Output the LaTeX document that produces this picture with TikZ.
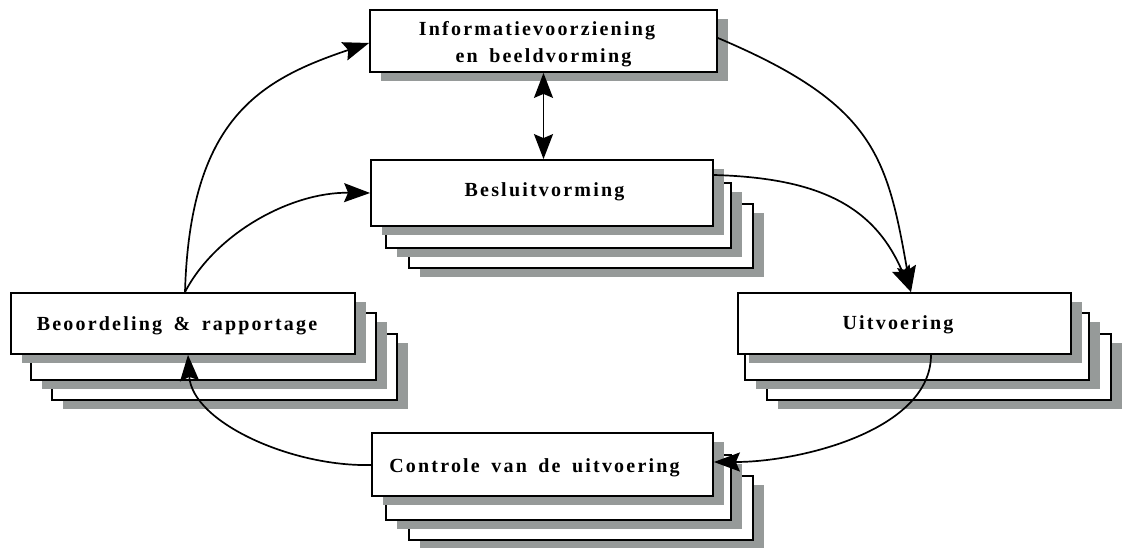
\documentclass[tikz,border=0pt]{standalone}
\usepackage{fontspec}
\setmainfont{Liberation Serif}
\newfontfamily\cardfamily{Liberation Serif}[LetterSpace=11]
\usetikzlibrary{shadows,arrows.meta}
\definecolor{shadowgray}{RGB}{150,154,153}
\newcommand\cardfont{\cardfamily\bfseries\fontsize{20}{27}\selectfont\spaceskip=11.5pt plus 1pt\relax}
\tikzset{
  card/.style={draw=black, fill=white, line width=1.8pt, inner sep=0pt,
    align=center, font=\cardfont, text height=13.5pt, text depth=4.5pt,
    drop shadow={shadow xshift=11pt, shadow yshift=-9pt, opacity=1, fill=shadowgray}},
  flow/.style={line width=1.7pt, -{Stealth[length=26pt, width=19pt, inset=4pt]}},
  twoway/.style={line width=1.8pt, {Stealth[length=25pt, width=19pt, inset=4pt]}-{Stealth[length=25pt, width=19pt, inset=4pt]}}
}
\begin{document}
\begin{tikzpicture}[x=1pt, y=-1pt]
\useasboundingbox (0,0) rectangle (1127,548);

% information box
\node[card, minimum width=347pt, minimum height=62pt, text height=, text depth=] (info) at (543.5,41)
  {\rule{0pt}{21pt}Informatievoorziening\hspace*{13pt}\\en beeldvorming};

% decision stack
\node[card, minimum width=344pt, minimum height=64pt] (besl3) at (581,236) {};
\node[card, minimum width=345pt, minimum height=65pt] (besl2) at (558.5,215.5) {};
\node[card, minimum width=342pt, minimum height=66pt, text height=13pt, text depth=5pt] (besl1) at (542,193)
  {\hspace*{5pt}Besluitvorming};

% assessment stack
\node[card, minimum width=345pt, minimum height=66pt] (beo3) at (224.5,367) {};
\node[card, minimum width=345pt, minimum height=67pt] (beo2) at (203.5,346.5) {};
\node[card, minimum width=344pt, minimum height=61pt, text height=15.5pt, text depth=2.5pt] (beo1) at (183,323.5)
  {\hspace*{-4pt}Beoordeling \& rapportage\hspace*{8pt}};

% execution stack
\node[card, minimum width=344pt, minimum height=66pt] (uit3) at (939,367) {};
\node[card, minimum width=344pt, minimum height=67pt] (uit2) at (917,346.5) {};
\node[card, minimum width=333pt, minimum height=61pt, text height=14.75pt, text depth=3.25pt] (uit1) at (904.5,323.5)
  {Uitvoering\hspace*{13pt}};

% control stack
\node[card, minimum width=344pt, minimum height=64pt] (con3) at (581,508) {};
\node[card, minimum width=345pt, minimum height=65pt] (con2) at (558.5,487.5) {};
\node[card, minimum width=341pt, minimum height=63pt, text height=16.5pt, text depth=1.5pt] (con1) at (542.5,464.5)
  {\hspace*{-4pt}Controle van de uitvoering\hspace*{12pt}};

% connectors
\draw[twoway] (info.south) -- (info.south |- besl1.north);
\draw[flow] ([yshift=3pt]info.east) .. controls +(156,66) and +(-24,-137) .. ([xshift=6.5pt]uit1.north);
\draw[flow] ([yshift=18pt]besl1.east) .. controls +(107,3) and +(-36,-85) .. ([xshift=6.5pt]uit1.north);
\draw[flow] ([xshift=26.5pt]uit1.south) .. controls +(0,75) and +(87,0) .. ([yshift=2.5pt]con1.east);
\draw[flow] ([yshift=-0.5pt]con1.west) .. controls +(-80,2) and +(4,67) .. ([xshift=5pt]beo1.south);
\draw[flow] ([xshift=2pt]beo1.north) .. controls +(5,-173) and +(-110,37) .. ([yshift=-2pt]info.west);
\draw[flow] ([xshift=2pt]beo1.north) .. controls +(30,-58) and +(-80,-1) .. (besl1.west);
\end{tikzpicture}
\end{document}
